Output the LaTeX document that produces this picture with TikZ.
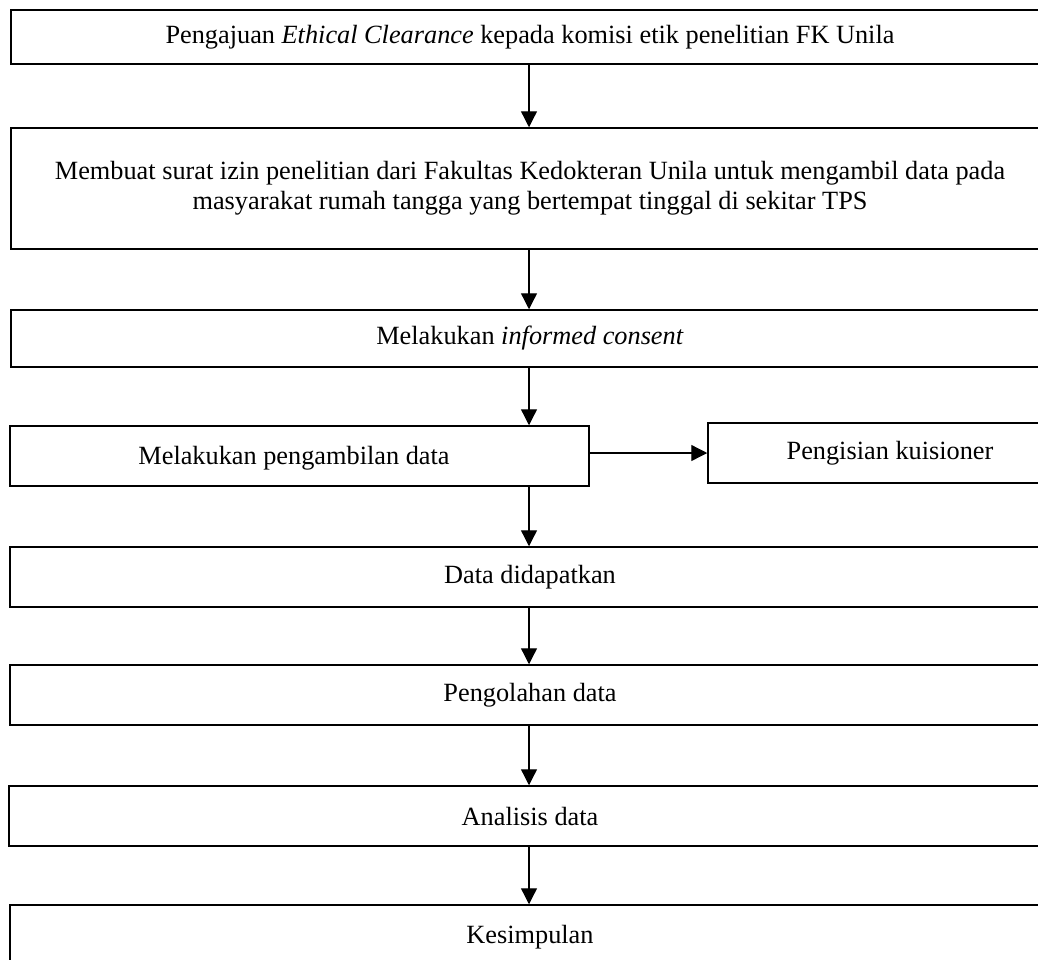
\documentclass[tikz,border=0pt]{standalone}
\usepackage{fontspec}
\setmainfont{Liberation Serif}
\usetikzlibrary{arrows.meta}
\tikzset{
  box/.style={draw, line width=1.5pt, align=center, inner sep=0pt, font=\fontsize{26.3}{30}\selectfont},
  arr/.style={line width=1.3pt, -{Triangle[length=16pt,width=16pt]}}
}
\begin{document}
\begin{tikzpicture}[x=1pt,y=-1pt]
\useasboundingbox (0,0) rectangle (1038,959);
\clip (0,0) rectangle (1038,959);
\node[box, minimum width=1060pt, minimum height=54pt] (b1) at (541,37) {};
\node at (530,37) [font=\fontsize{26.3}{30}\selectfont, inner sep=0pt] (t1) {Pengajuan \textit{Ethical Clearance} kepada komisi etik penelitian FK Unila};
\node[box, minimum width=1060pt, minimum height=121pt] (b2) at (541,188.5) {};
\node at (530,188.5) [font=\fontsize{26.3}{30}\selectfont, inner sep=0pt, align=center] (t2) {Membuat surat izin penelitian dari Fakultas Kedokteran Unila untuk mengambil data pada\\masyarakat rumah tangga yang bertempat tinggal di sekitar TPS};
\node[box, minimum width=1060pt, minimum height=57pt] (b3) at (541,338.5) {};
\node at (530,338.5) [font=\fontsize{26.3}{30}\selectfont, inner sep=0pt] (t3) {Melakukan \textit{informed consent}};
\node[box, minimum width=579pt, minimum height=60pt] (b4) at (299.5,456) {};
\node at (294,458) [font=\fontsize{26.3}{30}\selectfont, inner sep=0pt] (t4) {Melakukan pengambilan data};
\node[box, minimum width=364pt, minimum height=60pt] (b5) at (890,453) {Pengisian kuisioner};
\node[box, minimum width=1060pt, minimum height=60pt] (b6) at (540,577) {};
\node at (530,577) [font=\fontsize{26.3}{30}\selectfont, inner sep=0pt] (t6) {Data didapatkan};
\node[box, minimum width=1060pt, minimum height=60pt] (b7) at (540,695) {};
\node at (530,695) [font=\fontsize{26.3}{30}\selectfont, inner sep=0pt] (t7) {Pengolahan data};
\node[box, minimum width=1062pt, minimum height=60pt] (b8) at (540,816) {};
\node at (530,816) [font=\fontsize{26.3}{30}\selectfont, inner sep=0pt] (t8) {Analisis data};
\node[box, minimum width=1060pt, minimum height=64pt] (b9) at (540,937) {};
\node at (530,937) [font=\fontsize{26.3}{30}\selectfont, inner sep=0pt] (t9) {Kesimpulan};
\coordinate (ax) at (529,0);
\draw[arr] (b1.south -| ax) -- (b2.north -| ax);
\draw[arr] (b2.south -| ax) -- (b3.north -| ax);
\draw[arr] (b3.south -| ax) -- (b4.north -| ax);
\draw[arr] (b4.east |- b5.west) -- (b5.west);
\draw[arr] (b4.south -| ax) -- (b6.north -| ax);
\draw[arr] (b6.south -| ax) -- (b7.north -| ax);
\draw[arr] (b7.south -| ax) -- (b8.north -| ax);
\draw[arr] (b8.south -| ax) -- (b9.north -| ax);
\end{tikzpicture}
\end{document}
